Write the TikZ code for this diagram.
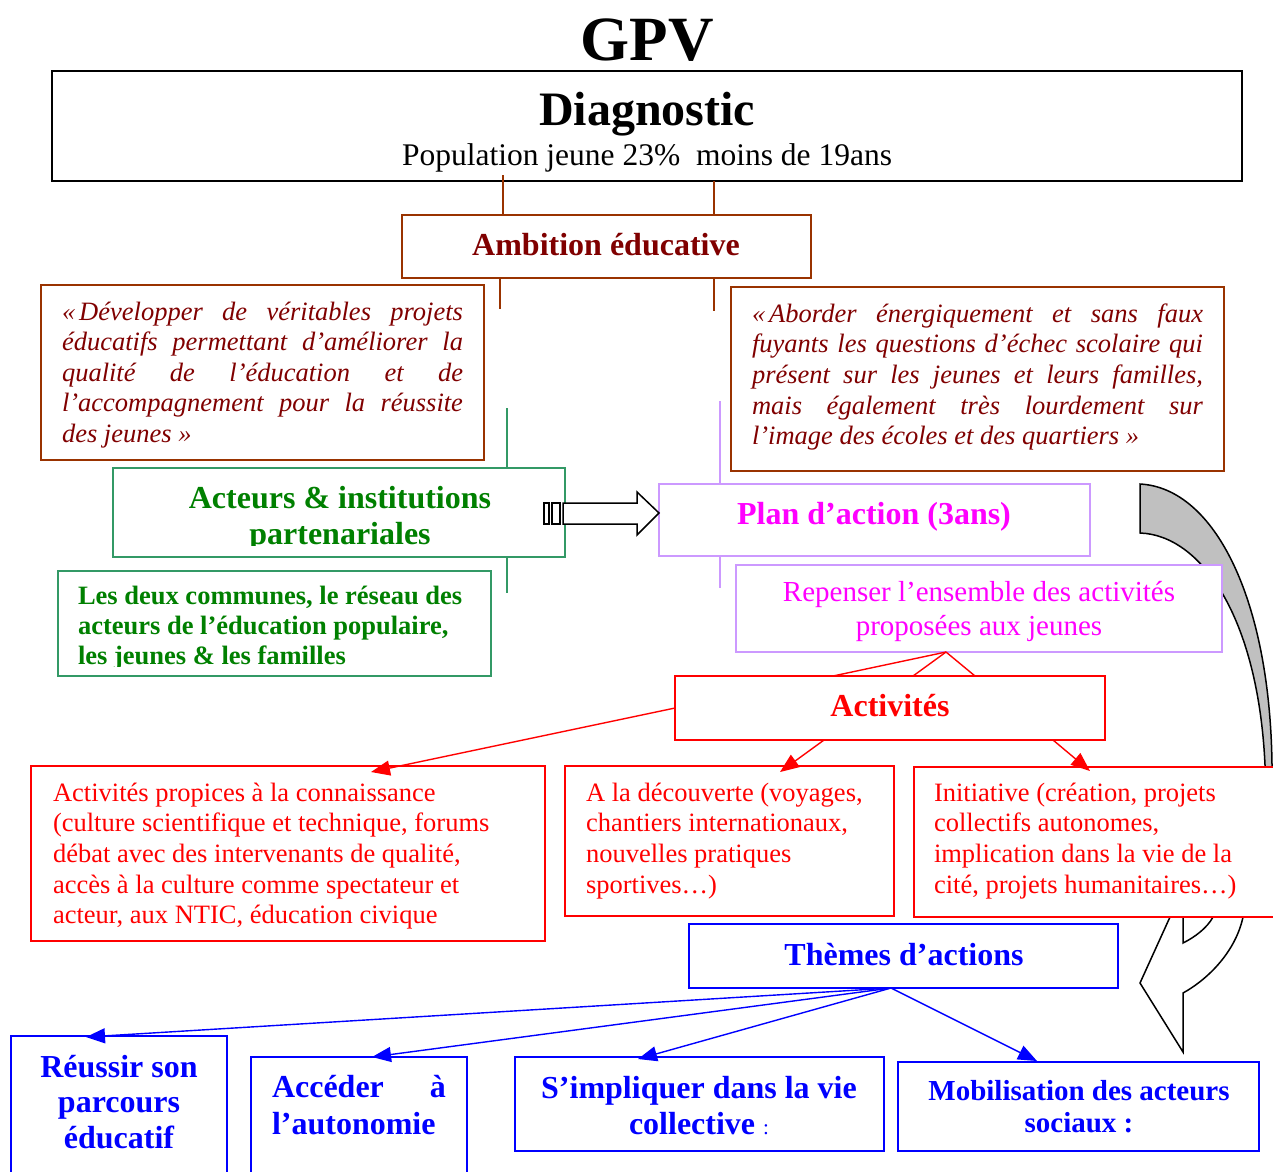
\documentclass[tikz,border=0pt]{standalone}
\usepackage{fontspec}
\setmainfont{Liberation Serif}
\usetikzlibrary{arrows.meta}
\definecolor{brownb}{HTML}{993300}
\definecolor{darkred}{HTML}{800000}
\definecolor{greenb}{HTML}{339966}
\definecolor{greent}{HTML}{008000}
\definecolor{lav}{HTML}{CC99FF}
\definecolor{mag}{HTML}{FF00FF}
\definecolor{redc}{HTML}{FF0000}
\definecolor{bluec}{HTML}{0000FF}
\definecolor{grayc}{HTML}{C0C0C0}
\begin{document}
\begin{tikzpicture}[x=1pt,y=-1pt,
 box/.style={draw, fill=white, line width=1.8pt, rectangle, inner sep=0pt, outer sep=0pt, anchor=north west},
 tx/.style={inner sep=0pt, outer sep=0pt},
 conn/.style={line width=1.4pt},
 tipc/.style={conn, -{Triangle[length=19pt,width=15pt]}},
 blk/.style={draw=black, line width=1.5pt, fill=white, line join=miter}]

\path[use as bounding box, clip] (0,0) rectangle (1273,1171);

% curved arrow (behind boxes)
\path[blk, fill=grayc] (1140,484) .. controls (1215,488) and (1270,600) .. (1272,765) -- (1272,780) -- (1265,780) -- (1265,765) .. controls (1258,615) and (1200,535) .. (1140,533) -- cycle;
\path[blk] (1175.5,905) -- (1170,917) -- (1140,983) -- (1183,1052) -- (1183,993) .. controls (1210,978) and (1236,950) .. (1243,917) -- (1246,905) -- cycle;
\draw[line width=1.5pt] (1183,905) -- (1183,943) .. controls (1195,937) and (1207,928) .. (1213,917) -- (1220,905);

% title
\node[tx, anchor=base] (gpv) at (647,60) {\fontsize{63}{63}\selectfont\bfseries GPV};

% boxes
\node[box, draw=black, line width=2.2pt, minimum width=1190pt, minimum height=110pt] (diag) at (52,71) {};
\node[box, draw=brownb, minimum width=409pt, minimum height=63pt] (amb) at (402,215) {};
\node[box, draw=brownb, minimum width=443pt, minimum height=175pt] (ql) at (41,285) {};
\node[box, draw=brownb, minimum width=493pt, minimum height=184pt] (qr) at (731,287) {};
\node[box, draw=greenb, minimum width=452pt, minimum height=89pt] (act) at (113,468) {};
\node[box, draw=greenb, minimum width=433pt, minimum height=105pt] (grn) at (58,571) {};
\node[box, draw=lav, minimum width=431pt, minimum height=72pt] (plan) at (659,484) {};
\node[box, draw=lav, minimum width=486pt, minimum height=87pt] (rep) at (736,565) {};
\node[box, draw=redc, minimum width=430pt, minimum height=64pt] (acti) at (675,676) {};
\node[box, draw=redc, minimum width=514pt, minimum height=175pt] (b1) at (31,766) {};
\node[box, draw=redc, minimum width=329pt, minimum height=150pt] (b2) at (565,766) {};
\node[box, draw=redc, minimum width=370pt, minimum height=150pt] (b3) at (914,767) {};
\node[box, draw=bluec, minimum width=429pt, minimum height=64pt] (them) at (689,924) {};
\node[box, draw=bluec, minimum width=216pt, minimum height=150pt] (r1) at (11,1036) {};
\node[box, draw=bluec, minimum width=216pt, minimum height=130pt] (r2) at (251,1057) {};
\node[box, draw=bluec, minimum width=369pt, minimum height=94pt] (r3) at (515,1057) {};
\node[box, draw=bluec, minimum width=361pt, minimum height=89pt] (r4) at (898,1062) {};

% brown connectors
\coordinate (xa) at (503,175);
\coordinate (xb) at (714,0);
\coordinate (xc) at (500,309);
\coordinate (xd) at (714,311);
\draw[conn, brownb] (xa) -- (xa |- amb.north);
\draw[conn, brownb] (diag.south -| xb) -- (amb.north -| xb);
\draw[conn, brownb] (amb.south -| xc) -- (xc);
\draw[conn, brownb] (amb.south -| xd) -- (xd);
% green connectors
\coordinate (g1) at (507,408);
\coordinate (g2) at (507,593);
\draw[conn, greenb] (g1) -- (g1 |- act.north);
\draw[conn, greenb] (g2 |- act.south) -- (g2);
% lavender connectors
\coordinate (l1) at (720,401);
\coordinate (l2) at (720,588);
\draw[conn, lav] (l1) -- (l1 |- plan.north);
\draw[conn, lav] (l2 |- plan.south) -- (l2);

% block arrow Acteurs -> Plan
\path[blk] (544,503) rectangle (549,524);
\path[blk] (552,503) rectangle (560,524);
\path[blk] (563,503) -- (637,503) -- (637,492) -- (plan.west |- 0,513) -- (637,535) -- (637,524) -- (563,524) -- cycle;

% red connectors
\coordinate (rp) at (946,652);
\coordinate (ra1) at (833,676);
\coordinate (ra2) at (913,676);
\coordinate (ra3) at (975,676);
\draw[conn, redc] (rp) -- (ra1);
\draw[conn, redc] (rp) -- (ra2);
\draw[conn, redc] (rp) -- (ra3);
\coordinate (t1) at (371,772);
\coordinate (s2) at (824,740);
\coordinate (t2) at (780,772);
\coordinate (s3) at (1053,740);
\coordinate (t3) at (1090,771);
\draw[tipc, redc] (acti.west) -- (t1);
\draw[tipc, redc] (s2) -- (t2);
\draw[tipc, redc] (s3) -- (t3);

% blue connectors
\coordinate (tb) at (891,988);
\coordinate (u1) at (86,1037);
\coordinate (u2) at (372,1057);
\coordinate (u3) at (638,1059);
\coordinate (u4) at (1037,1061);
\draw[tipc, bluec] (tb) -- (u1);
\draw[tipc, bluec] (tb) -- (u2);
\draw[tipc, bluec] (tb) -- (u3);
\draw[tipc, bluec] (tb) -- (u4);

% texts
\node[tx, anchor=base] (diagT) at (647,125) {\fontsize{48}{48}\selectfont\bfseries Diagnostic};
\node[tx, anchor=base] (diagP) at (647,165) {\fontsize{31.5}{31.5}\selectfont Population jeune 23\%\ \ moins de 19ans};
\node[tx, anchor=base, text=darkred] (ambT) at (606,255) {\fontsize{32}{32}\selectfont\bfseries Ambition éducative};

\node[tx, anchor=base west, text=darkred, font=\fontsize{26.5}{30.6}\selectfont\itshape] (qlT) at (62,320) {\parbox[t]{401pt}{%
\makebox[401pt][s]{«\kern4pt Développer de véritables projets}\\
\makebox[401pt][s]{éducatifs permettant d’améliorer la}\\
\makebox[401pt][s]{qualité de l’éducation et de}\\
\makebox[401pt][s]{l’accompagnement pour la réussite}\\
des jeunes »}};

\node[tx, anchor=base west, text=darkred, font=\fontsize{26.5}{30.7}\selectfont\itshape] (qrT) at (752,322) {\parbox[t]{451pt}{%
\makebox[451pt][s]{«\kern4pt Aborder énergiquement et sans faux}\\
\makebox[451pt][s]{fuyants les questions d’échec scolaire qui}\\
\makebox[451pt][s]{présent sur les jeunes et leurs familles,}\\
\makebox[451pt][s]{mais également très lourdement sur}\\
l’image des écoles et des quartiers »}};

\begin{scope}
\clip (113,468) rectangle (565,545);
\node[tx, anchor=base, text=greent, font=\fontsize{32}{36}\selectfont\bfseries] (actT) at (340,508) {\parbox[t]{440pt}{\centering
Acteurs \& institutions\\ partenariales}};
\end{scope}

\begin{scope}
\clip (58,571) rectangle (491,666);
\node[tx, anchor=base west, text=greent, font=\fontsize{26.5}{30.2}\selectfont\bfseries] (grnT) at (78,604) {\parbox[t]{420pt}{\raggedright
Les deux communes, le réseau des\\
acteurs de l’éducation populaire,\\
les jeunes \& les familles}};
\end{scope}

\node[tx, anchor=base, text=mag] (planT) at (874,524) {\fontsize{32}{32}\selectfont\bfseries Plan d’action (3ans)};
\node[tx, anchor=base, text=mag, font=\fontsize{29}{34}\selectfont] (repT) at (979,601) {\parbox[t]{480pt}{\centering
Repenser l’ensemble des activités\\ proposées aux jeunes}};
\node[tx, anchor=base, text=redc] (actiT) at (890,716) {\fontsize{32}{32}\selectfont\bfseries Activités};

\node[tx, anchor=base west, text=redc, font=\fontsize{26.5}{30.7}\selectfont] (b1T) at (53,801) {\parbox[t]{485pt}{\raggedright
Activités propices à la connaissance\\
(culture scientifique et technique, forums\\
débat avec des intervenants de qualité,\\
accès à la culture comme spectateur et\\
acteur, aux NTIC, éducation civique}};
\node[tx, anchor=base west, text=redc, font=\fontsize{26.5}{30.8}\selectfont] (b2T) at (586,801) {\parbox[t]{300pt}{\raggedright
A la découverte (voyages,\\
chantiers internationaux,\\
nouvelles pratiques\\
sportives…)}};
\node[tx, anchor=base west, text=redc, font=\fontsize{26.5}{30.8}\selectfont] (b3T) at (934,801) {\parbox[t]{335pt}{\raggedright
Initiative (création, projets\\
collectifs autonomes,\\
implication dans la vie de la\\
cité, projets humanitaires…)}};

\node[tx, anchor=base, text=bluec] (themT) at (904,965) {\fontsize{32}{32}\selectfont\bfseries Thèmes d’actions};

\node[tx, anchor=base, text=bluec, font=\fontsize{32}{35.5}\selectfont\bfseries] (r1T) at (119,1077) {\parbox[t]{210pt}{\centering
Réussir son\\ parcours\\ éducatif}};
\node[tx, anchor=base west, text=bluec, font=\fontsize{32}{37}\selectfont\bfseries] (r2T) at (272,1097) {\parbox[t]{174pt}{%
\makebox[174pt][s]{Accéder à}\\ l’autonomie}};
\node[tx, anchor=base, text=bluec, font=\fontsize{32}{36}\selectfont\bfseries] (r3T) at (699,1098) {\parbox[t]{360pt}{\centering
S’impliquer dans la vie\\ collective {\mdseries\fontsize{21}{21}\selectfont :}}};
\node[tx, anchor=base, text=bluec, font=\fontsize{29}{32.5}\selectfont\bfseries] (r4T) at (1079,1100) {\parbox[t]{355pt}{\centering
Mobilisation des acteurs\\ sociaux :}};
\end{tikzpicture}
\end{document}
